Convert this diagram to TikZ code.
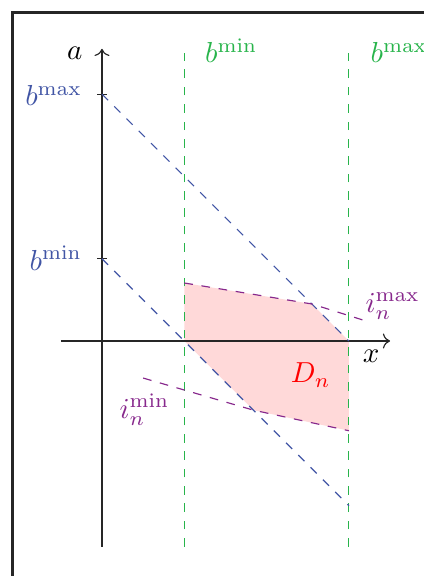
\documentclass[tikz,border=0pt]{standalone}
\usepackage{amsmath}
\usepackage{amssymb}
\usepackage{xcolor}
\usepackage{tikz}
\usetikzlibrary{arrows.meta}

\definecolor{bndblue}{RGB}{65,85,165}
\definecolor{bndgreen}{RGB}{40,180,75}
\definecolor{impurple}{RGB}{135,40,140}

\begin{document}
\begin{tikzpicture}[
    bline/.style={dashed, bndblue},
    gline/.style={dashed, bndgreen},
    iline/.style={dashed, impurple}
  ]
  \useasboundingbox (-1.239,-2.855) rectangle (3.901,4.143);
  \begin{scope}
    % Frame (cut off on the right and at the bottom)
    \draw[line width=1pt, black!85] (-1.087,-3.3) -- (-1.087,3.99) -- (4.3,3.99);

    % Feasible region
    \fill[red!15] (1,0.705) -- (2.55,0.45) -- (3,0) -- (3,-1.09)
      -- (1.84,-0.84) -- (1,0) -- cycle;

    % Axes
    \draw[->, black!85] (-0.5,0) -- (3.5,0);
    \draw[->, black!85] (0,-2.5) -- (0,3.55);
    \node (xlab) at (3.27,-0.19) {$x$};
    \node (alab) at (-0.33,3.5) {$a$};

    % Ticks on the a axis
    \foreach \y/\lab in {1/min, 3/max} {
      \draw[black!85] (-0.06,\y) -- (0.06,\y);
      \node[bndblue, anchor=base east] (blab\lab) at (-0.12,\y-0.14) {$b^{\csname\lab\endcsname}$};
    }

    % Bounds on x
    \draw[gline] (1,-2.5) -- (1,3.5);
    \draw[gline] (3,-2.5) -- (3,3.5);
    \node[bndgreen, anchor=base west] (gminlab) at (1.13,3.38) {$b^{\min}$};
    \node[bndgreen, anchor=base west] (gmaxlab) at (3.14,3.38) {$b^{\max}$};

    % Bounds on a + x
    \draw[bline] (0,3) -- (3,0);
    \draw[bline] (0,1) -- (3,-2);

    % Bounds from i_n
    \draw[iline] (1,0.705) -- (2.55,0.45) -- (3.17,0.255);
    \node[impurple, anchor=base west] (imaxlab) at (3.08,0.35) {$i_n^{\max}$};
    \draw[iline] (0.5,-0.45) -- (1.84,-0.84) -- (3,-1.09);
    \node[impurple, anchor=base west] (iminlab) at (0.09,-0.94) {$i_n^{\min}$};

    \node[red, anchor=base west] (dlab) at (2.17,-0.51) {$D_n$};
  \end{scope}
\end{tikzpicture}
\end{document}
